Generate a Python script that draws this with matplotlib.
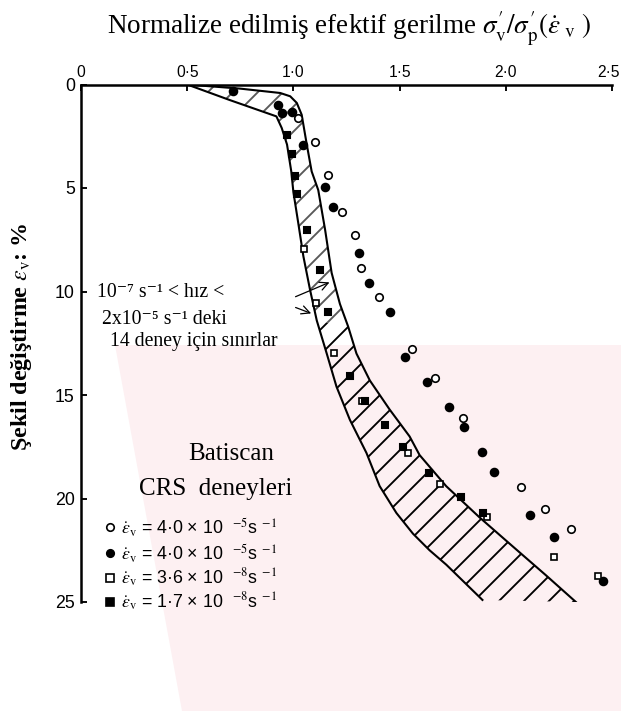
import numpy as np
import matplotlib
matplotlib.use('Agg')
import matplotlib.pyplot as plt
import matplotlib.transforms as mtransforms
from matplotlib.patches import Polygon

plt.rcParams['mathtext.fontset'] = 'stix'
plt.rcParams['hatch.linewidth'] = 0.9
SERIF = ['Liberation Serif', 'DejaVu Serif']
SANS = ['Liberation Sans', 'DejaVu Sans']

# limits of the band for the 14 tests (lower / left side and upper / right side)
lower_x = [0.50, 0.70, 0.92, 0.945, 0.97, 0.99, 1.00, 1.023, 1.047, 1.078, 1.11,
           1.157, 1.203, 1.266, 1.344, 1.406, 1.485, 1.563, 1.641, 1.72, 1.80, 1.89]
lower_y = [0.0, 0.75, 1.54, 2.1, 2.9, 4.2, 5.2, 6.7, 8.3, 9.9, 11.4,
           13.0, 14.6, 16.2, 17.8, 19.4, 20.7, 21.7, 22.5, 23.2, 24.0, 24.9]
upper_x = [0.50, 0.75, 0.938, 0.985, 1.016, 1.039, 1.063, 1.086, 1.117, 1.149, 1.18,
           1.219, 1.258, 1.297, 1.36, 1.453, 1.547, 1.594, 1.719, 1.875, 2.031, 2.188, 2.33]
upper_y = [0.0, 0.2, 0.41, 0.57, 0.89, 1.46, 2.9, 4.2, 5.1, 7.0, 9.1,
           10.6, 11.7, 13.0, 14.3, 15.7, 17.0, 17.9, 19.4, 20.9, 22.3, 23.7, 25.0]

# Batiscan CRS tests
open_circ_x = [1.022, 1.102, 1.164, 1.227, 1.288, 1.317, 1.402, 1.560, 1.667, 1.798,
               2.070, 2.185, 2.306]
open_circ_y = [1.62, 2.76, 4.37, 6.14, 7.25, 8.86, 10.25, 12.79, 14.19, 16.10,
               19.44, 20.52, 21.47]
full_circ_x = [0.716, 0.929, 0.946, 0.992, 1.047, 1.149, 1.185, 1.307, 1.358, 1.455,
               1.525, 1.630, 1.733, 1.803, 1.886, 1.946, 2.114, 2.227, 2.456]
full_circ_y = [0.31, 0.99, 1.39, 1.31, 2.92, 4.93, 5.90, 8.16, 9.61, 10.99,
               13.15, 14.36, 15.59, 16.57, 17.76, 18.70, 20.80, 21.87, 23.99]
open_sq_x = [1.050, 1.106, 1.191, 1.322, 1.541, 1.692, 1.910, 2.227, 2.436]
open_sq_y = [7.96, 10.54, 12.96, 15.28, 17.82, 19.30, 20.91, 22.83, 23.74]
full_sq_x = [0.968, 0.995, 1.008, 1.018, 1.062, 1.125, 1.164, 1.266, 1.337, 1.431,
             1.515, 1.640, 1.789, 1.891]
full_sq_y = [2.44, 3.38, 4.40, 5.29, 7.03, 8.96, 10.98, 14.08, 15.29, 16.43,
             17.51, 18.75, 19.91, 20.71]

x_ticks = [0, 0.5, 1.0, 1.5, 2.0, 2.5]
x_labels = ['0', '0·5', '1·0', '1·5', '2·0', '2·5']
y_ticks = [0, 5, 10, 15, 20, 25]

legend_texts = [r'$\dot{\varepsilon}_{\rm v}$ = 4·0 × 10  $^{-5}$s $^{-1}$',
                r'$\dot{\varepsilon}_{\rm v}$ = 4·0 × 10  $^{-5}$s $^{-1}$',
                r'$\dot{\varepsilon}_{\rm v}$ = 3·6 × 10  $^{-8}$s $^{-1}$',
                r'$\dot{\varepsilon}_{\rm v}$ = 1·7 × 10  $^{-8}$s $^{-1}$']
legend_y = [21.4, 22.65, 23.85, 25.0]

fig = plt.figure(figsize=(6.21 / 1.5, 7.11 / 1.5), dpi=150)

# faint pink watermark of the scanned page, kept behind everything
wm = Polygon([(115 / 621, 1 - 345 / 711), (1, 1 - 345 / 711), (1, 0),
              (182 / 621, 0)], closed=True, transform=fig.transFigure,
             facecolor='#fdf0f2', edgecolor='none', zorder=-10)
fig.patches.append(wm)

ax = fig.add_axes([81 / 621, 1 - 602 / 711, 531 / 621, 517.5 / 711])
ax.set_zorder(1)

# hatched band: upper part lighter (dashed in the original), lower part solid
n_lo, n_up = 11, 13
top_x = np.concatenate([lower_x[:n_lo], upper_x[:n_up][::-1]])
top_y = np.concatenate([lower_y[:n_lo], upper_y[:n_up][::-1]])
bot_x = np.concatenate([lower_x[n_lo - 1:], upper_x[n_up - 1:][::-1]])
bot_y = np.concatenate([lower_y[n_lo - 1:], upper_y[n_up - 1:][::-1]])
ax.fill(top_x, top_y, facecolor='none', edgecolor='0.35', hatch='//', linewidth=0)
ax.fill(bot_x, bot_y, facecolor='none', edgecolor='black', hatch='//', linewidth=0)
ax.plot(lower_x, lower_y, color='black', lw=1.0)
ax.plot(upper_x, upper_y, color='black', lw=1.0)

ms = 3.6
ax.plot(open_circ_x, open_circ_y, 'o', ms=ms, mfc='white', mec='black', mew=0.8)
ax.plot(full_circ_x, full_circ_y, 'o', ms=ms, mfc='black', mec='black')
ax.plot(open_sq_x, open_sq_y, 's', ms=ms * 0.9, mfc='white', mec='black', mew=0.8)
ax.plot(full_sq_x, full_sq_y, 's', ms=ms * 0.9, mfc='black', mec='black')

ax.set_xlim(0, 2.5)
ax.set_ylim(25, 0)
ax.xaxis.tick_top()
ax.set_xticks(x_ticks)
ax.set_xticklabels(x_labels, fontsize=7.5, family=SANS)
ax.set_yticks(y_ticks)
ax.set_yticklabels([str(v) for v in y_ticks], fontsize=8.5, family=SANS)
ax.tick_params(axis='both', direction='in', length=3, width=0.9, pad=3)
ax.tick_params(axis='x', pad=2)
for side in ['right', 'bottom']:
    ax.spines[side].set_visible(False)
for side in ['top', 'left']:
    ax.spines[side].set_linewidth(1.2)
ax.patch.set_alpha(0)

# last top label sits on the page edge; nudge it left so it stays inside
last = ax.get_xticklabels()[-1]
last.set_transform(last.get_transform() +
                   mtransforms.ScaledTranslation(-4 / 150, 0, fig.dpi_scale_trans))

# annotations
ax.text(0.075, 10.25, '10⁻⁷ s⁻¹ < hız <', fontsize=9.5, family=SERIF)
ax.text(0.098, 11.55, '2x10⁻⁵ s⁻¹ deki', fontsize=9.5, family=SERIF)
ax.text(0.137, 12.65, '14 deney için sınırlar', fontsize=9.5, family=SERIF)
ax.annotate('', xy=(1.188, 9.48), xytext=(0.992, 10.33),
            arrowprops=dict(arrowstyle='->', lw=0.6, color='black'))
ax.annotate('', xy=(1.102, 11.13), xytext=(0.992, 10.7),
            arrowprops=dict(arrowstyle='->', lw=0.6, color='black'))

ax.text(0.705, 17.85, 'Batiscan', fontsize=12, family=SERIF, ha='center', va='center')
ax.text(0.635, 19.55, 'CRS  deneyleri', fontsize=12, family=SERIF, ha='center', va='center')

markers = [('o', 'white'), ('o', 'black'), ('s', 'white'), ('s', 'black')]
for (m, fc), txt, yy in zip(markers, legend_texts, legend_y):
    ax.plot([0.137], [yy], m, ms=ms, mfc=fc, mec='black', mew=0.8, clip_on=False)
    ax.text(0.19, yy, txt, fontsize=8.5, family=SANS, va='center')

fig.text(349 / 621, 1 - 34 / 711,
         r"Normalize edilmiş efektif gerilme $\sigma_{\rm v}'/\sigma_{\rm p}'(\dot{\varepsilon}_{\rm \ v}\ )$",
         fontsize=13, family=SERIF, ha='center', va='baseline')
fig.text(22 / 621, 1 - 337 / 711, r'Şekil değiştirme $\varepsilon_{\rm v}$: %',
         fontsize=11.5, family=SERIF, weight='bold', rotation=90, ha='center', va='center')

fig.savefig('out.png', dpi=150)
